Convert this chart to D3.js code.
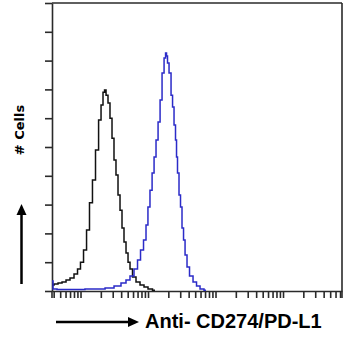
<!DOCTYPE html>
<html><head><meta charset="utf-8">
<script src="https://cdn.jsdelivr.net/npm/d3@7"></script>
<style>html,body{margin:0;padding:0;background:#fff;}svg{display:block;}</style>
</head><body>
<svg id="c" width="350" height="341"></svg>
<script>
// Fluorescence intensity (log axis) and % of max cells
const isotypeX = [3.78,4.34,4.97,5.70,6.53,7.48,8.58,9.50,10.5,11.7,12.9,14.3,15.8,17.6,19.5,20.8,22.3,23.1,24.7,26.4,28.3,30.3,32.4,34.7,37.2,39.8,42.6,45.6,48.9,52.3,56.0,62.0,71.1,81.5,93.4,107,127];
const isotypeY = [2.1,2.4,2.8,3.1,3.8,4.5,5.9,7.6,10,14.2,21.2,30.6,38.5,49,59.4,64.6,69,69.8,68,65.3,60,53,45.5,40.3,33.3,28,21.9,17,13.2,10,7.6,4.9,3.1,2.1,1.4,0.7,0.3];
const antibodyX = [3.78,4.05,4.97,6.99,9.83,13.8,19.5,27.4,35.9,44.1,50.5,57.9,66.4,73.6,81.5,90.3,96.6,103,111,119,127,136,146,156,167,179,185,191,198,212,227,235,251,260,269,278,298,308,330,342,366,391,434,497,551,631,723];
const antibodyY = [3.5,0.7,0.5,0.5,0.5,0.7,0.7,1,1.7,2.8,3.8,5.2,7.6,10.8,14.2,17.7,22.9,29.2,35,41,46.5,52.4,58.7,66.3,75.7,80.9,82.6,81.6,79.2,75.7,68,63.9,57.6,52.4,46.5,41,33.3,29.2,21.9,17.7,12.5,8.3,5.2,3.1,1.7,0.7,0.3];
const xDomain = [3.78, 74800];
const yDomain = [0, 100];
const yLabel = "# Cells";
const xLabel = "Anti- CD274/PD-L1";

const svg = d3.select("#c");
const L = 52, R = 342, T = 3, B = 291;
const x = d3.scaleLog().domain(xDomain).range([L, R]);
const y = d3.scaleLinear().domain(yDomain).range([B, T]);
const axisColor = "#2a2a2a";

// frame top & right
svg.append("line").attr("x1", L).attr("x2", R).attr("y1", T).attr("y2", T)
  .attr("stroke", axisColor).attr("stroke-width", 1.6);
svg.append("line").attr("x1", R).attr("x2", R).attr("y1", T).attr("y2", B + 7)
  .attr("stroke", axisColor).attr("stroke-width", 1.6);

const gx = svg.append("g").attr("transform", `translate(0,${B})`)
  .call(d3.axisBottom(x).ticks(10).tickFormat("").tickSize(7).tickSizeOuter(0));
const gy = svg.append("g").attr("transform", `translate(${L},0)`)
  .call(d3.axisLeft(y).ticks(10).tickFormat("").tickSize(7).tickSizeOuter(0));
[gx, gy].forEach(g => {
  g.selectAll("path,line").attr("stroke", axisColor).attr("stroke-width", 1.6);
});
svg.append("line").attr("x1", L).attr("x2", L).attr("y1", B).attr("y2", B + 7)
  .attr("stroke", axisColor).attr("stroke-width", 1.6);

const line = d3.line().x(d => x(d[0])).y(d => y(d[1])).curve(d3.curveStep);
svg.append("path").datum(d3.zip(isotypeX, isotypeY)).attr("d", line)
  .attr("fill", "none").attr("stroke", "#111").attr("stroke-width", 1.5);
svg.append("path").datum(d3.zip(antibodyX, antibodyY)).attr("d", line)
  .attr("fill", "none").attr("stroke", "#2b2bc8").attr("stroke-width", 1.5);

// y label and arrow
svg.append("text").attr("transform", "translate(24,130) rotate(-90)")
  .attr("text-anchor", "middle").attr("font-family", "DejaVu Sans").attr("font-weight", "bold")
  .attr("font-size", 13).attr("fill", "#000").text(yLabel);
svg.append("line").attr("x1", 21.5).attr("x2", 21.5).attr("y1", 284).attr("y2", 213)
  .attr("stroke", "#000").attr("stroke-width", 2.5);
svg.append("path").attr("d", "M21.5,204 L16.5,215 L26.5,215 Z").attr("fill", "#000");

// x label and arrow
svg.append("line").attr("x1", 56).attr("x2", 129).attr("y1", 322).attr("y2", 322)
  .attr("stroke", "#000").attr("stroke-width", 2.5);
svg.append("path").attr("d", "M139,322 L128,317 L128,327 Z").attr("fill", "#000");
svg.append("text").attr("x", 145).attr("y", 328)
  .attr("font-family", "Liberation Sans, Arial").attr("font-weight", "bold")
  .attr("font-size", 20).attr("fill", "#000").text(xLabel);
</script>
</body></html>
